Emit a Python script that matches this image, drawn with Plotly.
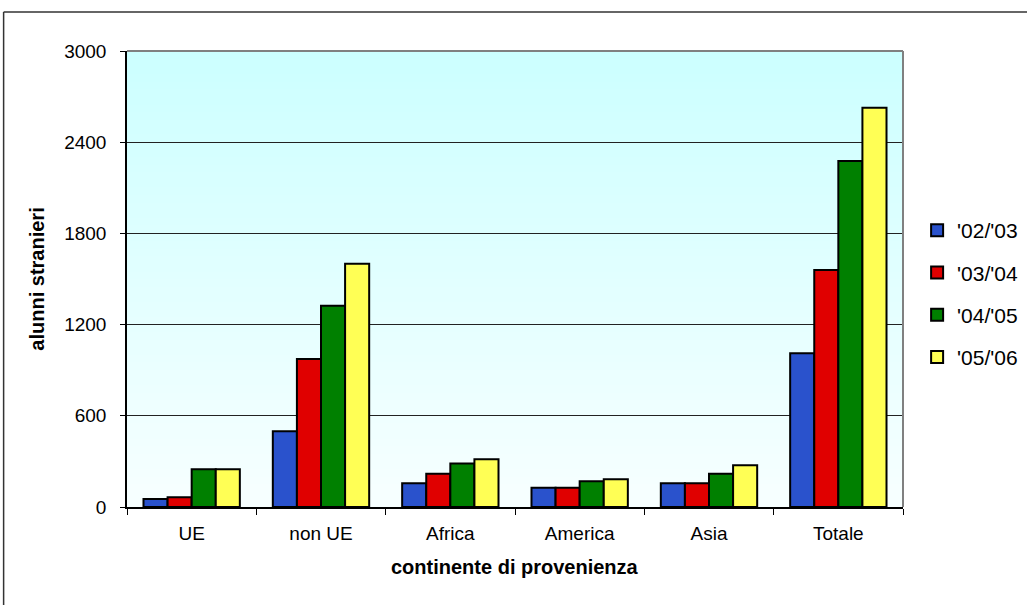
import plotly.graph_objects as go

# Foreign pupils by continent of origin, school years 2002/03 - 2005/06
categories = ["UE", "non UE", "Africa", "America", "Asia", "Totale"]
years = ["'02/'03", "'03/'04", "'04/'05", "'05/'06"]
values = {
    "'02/'03": [53, 498, 156, 127, 156, 1011],
    "'03/'04": [64, 974, 219, 127, 156, 1559],
    "'04/'05": [248, 1324, 287, 169, 219, 2276],
    "'05/'06": [248, 1600, 314, 182, 274, 2627],
}
y_ticks = [0, 600, 1200, 1800, 2400, 3000]

colors = {
    "'02/'03": "#2a52cc",
    "'03/'04": "#e00000",
    "'04/'05": "#008000",
    "'05/'06": "#ffff55",
}

FONT = "Liberation Sans, Arial, sans-serif"

fig = go.Figure()
for yr in years:
    fig.add_trace(go.Bar(
        x=categories,
        y=values[yr],
        name=yr,
        legendgroup=yr,
        marker=dict(color=colors[yr], line=dict(color="#000000", width=2)),
    ))

# vertical cyan-to-white wash behind the plot area
shapes = []
n_bands = 60
top = (0xCC, 0xFF, 0xFF)
bottom = (0xF7, 0xFF, 0xFF)
for i in range(n_bands):
    t = i / (n_bands - 1)
    r = round(bottom[0] + (top[0] - bottom[0]) * t)
    g = round(bottom[1] + (top[1] - bottom[1]) * t)
    b = round(bottom[2] + (top[2] - bottom[2]) * t)
    shapes.append(dict(
        type="rect", xref="paper", yref="paper",
        x0=0, x1=1, y0=i / n_bands, y1=(i + 1) / n_bands + 0.002,
        fillcolor=f"rgb({r},{g},{b})", line=dict(width=0), layer="below",
    ))

# grey top and right edges of the plot area
shapes.append(dict(type="line", xref="paper", yref="paper", x0=0, x1=1, y0=1, y1=1,
                   line=dict(color="#808080", width=2)))
shapes.append(dict(type="line", xref="paper", yref="paper", x0=1, x1=1, y0=0, y1=1,
                   line=dict(color="#808080", width=2)))

# outer chart frame (top and left edges)
shapes.append(dict(type="line", xref="paper", yref="paper", x0=-0.159, x1=1.2, y0=1.0855, y1=1.0855,
                   line=dict(color="#333333", width=1.5)))
shapes.append(dict(type="line", xref="paper", yref="paper", x0=-0.159, x1=-0.159, y0=-0.25, y1=1.0855,
                   line=dict(color="#333333", width=1.5)))

fig.update_layout(
    width=1027,
    height=605,
    margin=dict(l=127, r=124, t=51, b=98),
    paper_bgcolor="#ffffff",
    plot_bgcolor="rgba(0,0,0,0)",
    barmode="group",
    bargap=0.255,
    bargroupgap=0,
    font=dict(family=FONT, color="#000000", size=19),
    shapes=shapes,
    showlegend=True,
    legend=dict(
        xref="container", x=0.893, xanchor="left",
        yref="paper", y=0.467, yanchor="middle",
        font=dict(size=21, family=FONT),
        traceorder="grouped",
        tracegroupgap=12,
        bgcolor="rgba(0,0,0,0)",
        borderwidth=0,
    ),
    xaxis=dict(
        type="category",
        tickson="boundaries",
        ticks="outside",
        ticklen=6,
        tickcolor="#000000",
        showline=True,
        linecolor="#000000",
        linewidth=1.5,
        showgrid=False,
        tickfont=dict(size=19),
        ticklabelstandoff=8,
    ),
    yaxis=dict(
        range=[0, 3000],
        tickvals=y_ticks,
        ticks="outside",
        ticklen=5,
        tickcolor="#000000",
        showline=True,
        linecolor="#000000",
        linewidth=1.5,
        showgrid=True,
        gridcolor="#222222",
        gridwidth=1,
        zeroline=False,
        tickfont=dict(size=19),
        ticklabelstandoff=10,
    ),
    annotations=[
        dict(text="<b>continente di provenienza</b>", xref="paper", yref="paper",
             x=0.5, y=-0.1316, xanchor="center", yanchor="middle", showarrow=False,
             font=dict(size=20, family=FONT)),
        dict(text="<b>alunni stranieri</b>", xref="paper", yref="paper",
             x=-0.1164, y=0.5, xanchor="center", yanchor="middle", textangle=-90,
             showarrow=False, font=dict(size=20, family=FONT)),
    ],
)

fig.write_html("out.html")
